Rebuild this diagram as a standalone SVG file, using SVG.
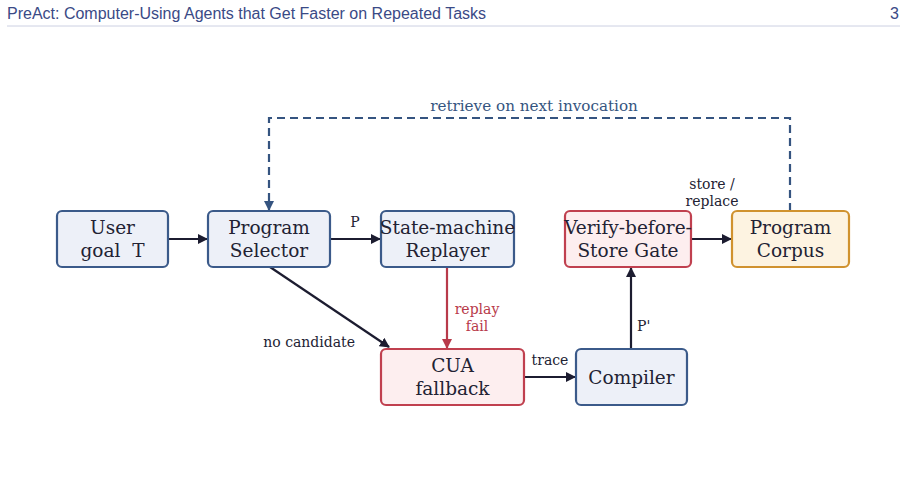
<svg xmlns="http://www.w3.org/2000/svg" width="906" height="502" viewBox="0 0 906 502">
<defs>
<marker id="ah" viewBox="0 0 10 10" refX="9" refY="5" markerWidth="10" markerHeight="10" markerUnits="userSpaceOnUse" orient="auto"><path d="M0,0 L10,5 L0,10 z" fill="#1c1c30"/></marker>
<marker id="ahr" viewBox="0 0 10 10" refX="9" refY="5" markerWidth="10" markerHeight="10" markerUnits="userSpaceOnUse" orient="auto"><path d="M0,0 L10,5 L0,10 z" fill="#b83a4a"/></marker>
<marker id="ahb" viewBox="0 0 10 10" refX="9" refY="5" markerWidth="10" markerHeight="10" markerUnits="userSpaceOnUse" orient="auto"><path d="M0,0 L10,5 L0,10 z" fill="#355480"/></marker>
</defs>
<style>
.hdr{font-family:"Liberation Sans",Arial,sans-serif;font-size:16px;fill:#3a4a86}
.box{stroke-width:2.2}
.blue{fill:#edf0f8;stroke:#3b5a8a}
.red{fill:#fdeeef;stroke:#c0404f}
.org{fill:#fdf3e1;stroke:#d0922f}
.t{font-family:"DejaVu Serif",serif;font-size:18.5px;fill:#222233;text-anchor:middle}
.l{font-family:"DejaVu Serif",serif;font-size:14px;fill:#222233}
.e{fill:none;stroke:#1c1c30;stroke-width:2.2}
</style>
<rect width="906" height="502" fill="#ffffff"/>
<text class="hdr" x="7" y="19">PreAct: Computer-Using Agents that Get Faster on Repeated Tasks</text>
<text class="hdr" x="899" y="19" text-anchor="end">3</text>
<line x1="7" y1="26" x2="900" y2="26" stroke="#ccd0e2" stroke-width="1"/>

<g id="connectors">
<line class="e" x1="168" y1="239" x2="207" y2="239" marker-end="url(#ah)"/>
<line class="e" x1="330" y1="239" x2="380" y2="239" marker-end="url(#ah)"/>
<text class="l" x="355" y="227" text-anchor="middle">P</text>
<line x1="447" y1="267" x2="447" y2="348" stroke="#b83a4a" stroke-width="2.2" marker-end="url(#ahr)"/>
<text class="l" x="477" y="314" text-anchor="middle" style="fill:#b83a4a">replay</text>
<text class="l" x="477" y="331" text-anchor="middle" style="fill:#b83a4a">fail</text>
<line class="e" x1="270" y1="267" x2="389" y2="347" marker-end="url(#ah)"/>
<text class="l" x="355" y="347" text-anchor="end">no candidate</text>
<line class="e" x1="524" y1="377" x2="575" y2="377" marker-end="url(#ah)"/>
<text class="l" x="550" y="365" text-anchor="middle">trace</text>
<line class="e" x1="631" y1="349" x2="631" y2="268" marker-end="url(#ah)"/>
<text class="l" x="637" y="331">P'</text>
<line class="e" x1="691" y1="239" x2="731" y2="239" marker-end="url(#ah)"/>
<text class="l" x="712" y="189" text-anchor="middle">store /</text>
<text class="l" x="712" y="206" text-anchor="middle">replace</text>
<path d="M790,211 L790,118 L269,118 L269,210" fill="none" stroke="#355480" stroke-width="2.2" stroke-dasharray="8,5" marker-end="url(#ahb)"/>
<text class="l" x="534" y="111" text-anchor="middle" style="fill:#355480;font-size:15.2px">retrieve on next invocation</text>
</g>

<g id="user-goal"><rect class="box blue" x="57" y="211" width="111" height="56" rx="5"/><text class="t" x="112.5" y="234">User</text><text class="t" x="112.5" y="257" xml:space="preserve">goal  T</text></g>
<g id="program-selector"><rect class="box blue" x="208" y="211" width="122" height="56" rx="5"/><text class="t" x="269" y="234">Program</text><text class="t" x="269" y="257">Selector</text></g>
<g id="replayer"><rect class="box blue" x="381" y="211" width="133" height="56" rx="5"/><text class="t" x="447.5" y="234">State-machine</text><text class="t" x="447.5" y="257">Replayer</text></g>
<g id="verify-gate"><rect class="box red" x="565" y="211" width="126" height="56" rx="5"/><text class="t" x="628" y="234">Verify-before-</text><text class="t" x="628" y="257">Store Gate</text></g>
<g id="program-corpus"><rect class="box org" x="732" y="211" width="117" height="56" rx="5"/><text class="t" x="790.5" y="234">Program</text><text class="t" x="790.5" y="257">Corpus</text></g>
<g id="cua-fallback"><rect class="box red" x="381" y="349" width="143" height="56" rx="5"/><text class="t" x="452.5" y="372">CUA</text><text class="t" x="452.5" y="395">fallback</text></g>
<g id="compiler"><rect class="box blue" x="576" y="349" width="111" height="56" rx="5"/><text class="t" x="631.5" y="384">Compiler</text></g>
</svg>
